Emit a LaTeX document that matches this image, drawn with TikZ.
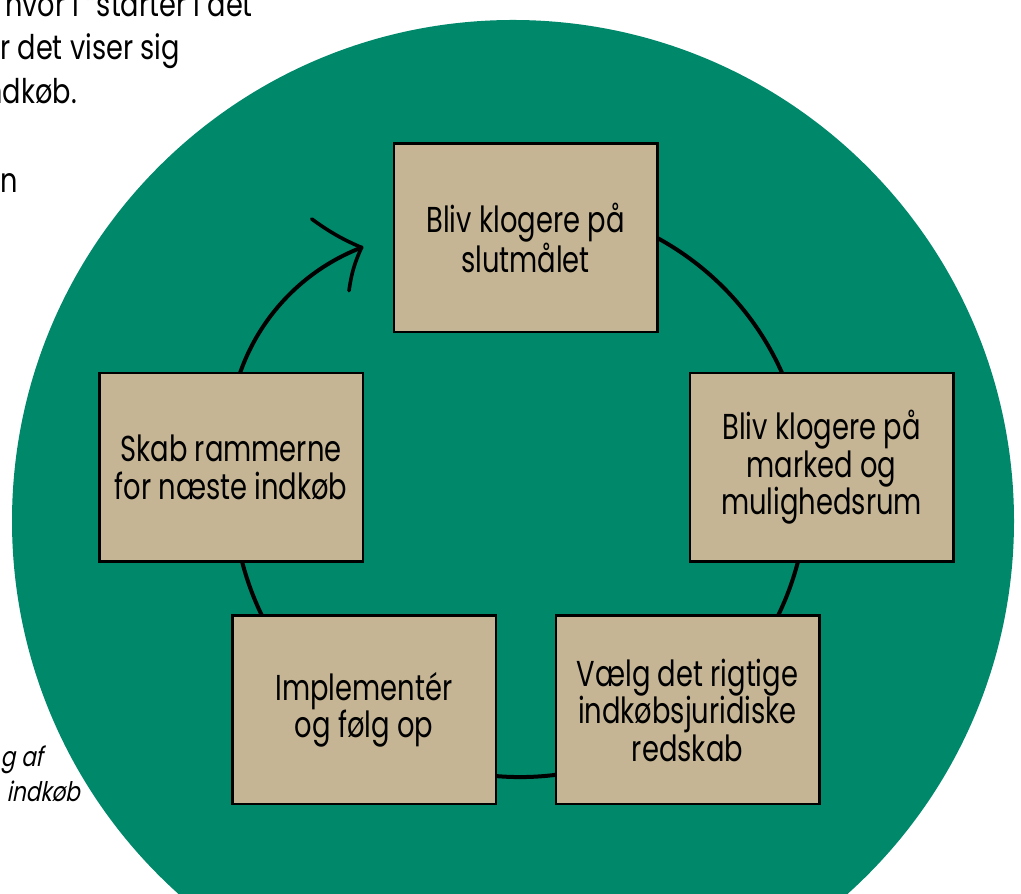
\documentclass[tikz,border=0pt]{standalone}
\usepackage{fontspec}
\setmainfont{Poppins}
\newfontfamily\boxfont{Poppins}[FakeStretch=0.76]
\newfontfamily\bodyfont{Poppins}[FakeStretch=0.8]
\newfontfamily\capfont{Poppins}[FakeStretch=0.8,FakeSlant=0.2]
\definecolor{bggreen}{HTML}{00886B}
\definecolor{boxtan}{HTML}{C5B594}
\begin{document}
\begin{tikzpicture}[x=1pt,y=1pt,
  stepbox/.style={draw=black, line width=2.5pt, fill=boxtan,
    minimum width=263.5pt, minimum height=188.5pt, inner sep=0pt,
    align=center, font=\boxfont\fontsize{36}{37.5}\selectfont},
  cycleline/.style={draw=black, line width=4pt, line cap=round},
  bodytext/.style={anchor=base east, inner sep=0pt, font=\bodyfont\fontsize{34}{44}\selectfont},
  captext/.style={anchor=base east, inner sep=0pt, font=\capfont\fontsize{27}{35}\selectfont}]
\useasboundingbox (0,0) rectangle (1021,894);
\clip (0,0) rectangle (1021,894);
% background disc
\fill[bggreen] (513,373) circle[radius=501];
% text at the left edge, cut by the page
\node[bodytext] (t1) at (253,877.3) {hvor I “starter i det};
\node[bodytext] (t2) at (180,834) {r det viser sig};
\node[bodytext] (t3) at (77,790) {ndkøb.};
\node[bodytext] (t4) at (18,701) {un};
\node[captext] (c1) at (43,127.3) {g af};
\node[captext] (c2) at (80,92.3) {indkøb};
% cycle line
\draw[cycleline] (520,404) ++(110:287) arc[start angle=110, end angle=-190, radius=287];
\draw[cycleline] (436.4,452.4) ++(176:208) arc[start angle=176, end angle=111.1, radius=208]
  coordinate (tip);
\coordinate (barbA) at (311.7,675);
\coordinate (barbB) at (349,603.3);
\draw[cycleline, line width=3.6pt] (tip) to[bend left=6] (barbA);
\draw[cycleline, line width=3.6pt] (tip) to[bend right=8] (barbB);
% boxes
\node[stepbox] (b1) at (525.5,656) {Bliv klogere på\\slutmålet};
\node[stepbox] (b2) at (821.5,426.7) {Bliv klogere på\\marked og\\mulighedsrum};
\node[stepbox] (b3) at (687.5,184) {Vælg det rigtige\\indkøbsjuridiske\\redskab};
\node[stepbox] (b4) at (364,184) {Implementér\\og følg op};
\node[stepbox] (b5) at (231,426.7) {Skab rammerne\\for næste indkøb};
\end{tikzpicture}
\end{document}
